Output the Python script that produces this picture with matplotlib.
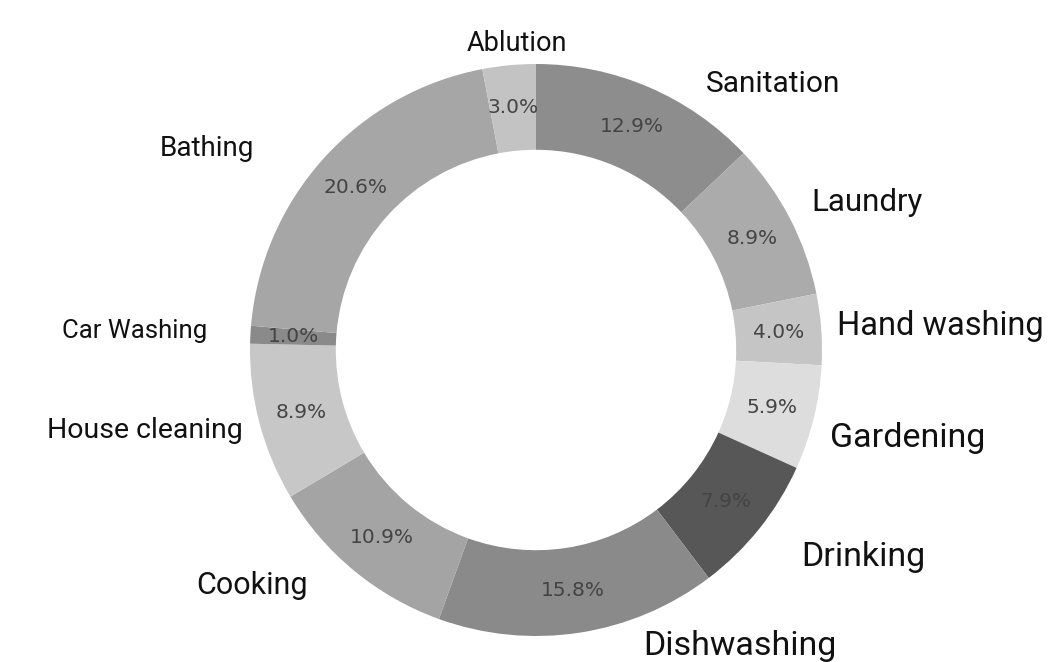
import matplotlib
matplotlib.use("Agg")
import matplotlib.pyplot as plt

# Share of household water use by activity (%), clockwise from 12 o'clock
categories = ["Sanitation", "Laundry", "Hand washing", "Gardening", "Drinking",
              "Dishwashing", "Cooking", "House cleaning", "Car Washing",
              "Bathing", "Ablution"]
shares = [12.9, 8.9, 4.0, 5.9, 7.9, 15.8, 10.9, 8.9, 1.0, 20.6, 3.0]

# Slice fills (grey scale)
colors = ["#8d8d8d", "#ababab", "#c5c5c5", "#dddddd", "#575757",
          "#8a8a8a", "#a4a4a4", "#c7c7c7", "#8a8a8a", "#a6a6a6", "#c3c3c3"]

# Category label placement (data units, ring radius = 1) and font size
label_layout = {
    "Sanitation":     (0.829, 0.930, 21.5),
    "Laundry":        (1.157, 0.517, 22.5),
    "Hand washing":   (1.413, 0.084, 23.5),
    "Gardening":      (1.301, -0.308, 24.5),
    "Drinking":       (1.143, -0.724, 24.5),
    "Dishwashing":    (0.712, -1.035, 24.5),
    "Cooking":        (-0.993, -0.825, 22),
    "House cleaning": (-1.368, -0.280, 20.5),
    "Car Washing":    (-1.403, 0.066, 18.5),
    "Bathing":        (-1.150, 0.706, 20),
    "Ablution":       (-0.066, 1.070, 19.5),
}

W, H, DPI = 1049, 662, 100
fig = plt.figure(figsize=(W / DPI, H / DPI), dpi=DPI, facecolor="white")
ax = fig.add_axes([0, 0, 1, 1])

wedges, texts, autotexts = ax.pie(
    shares,
    colors=colors,
    startangle=90,
    counterclock=False,
    autopct="%1.1f%%",
    pctdistance=0.85,
    radius=1.0,
    wedgeprops=dict(width=0.30, edgecolor="none"),
    textprops=dict(family="DejaVu Sans", fontsize=14.5, color="#444444"),
)

for name in categories:
    x, y, fs = label_layout[name]
    ax.text(x, y, name, ha="center", va="center", fontsize=fs,
            family=["Roboto", "DejaVu Sans"], color="#111111")

# Ring centre at (536, 350) px with a 286 px outer radius
cx, cy, r = 536, 350, 286
ax.set_xlim(-cx / r, (W - cx) / r)
ax.set_ylim(-(H - cy) / r, cy / r)
ax.set_aspect("equal")
ax.axis("off")

fig.savefig("out.png", dpi=DPI, facecolor="white")
